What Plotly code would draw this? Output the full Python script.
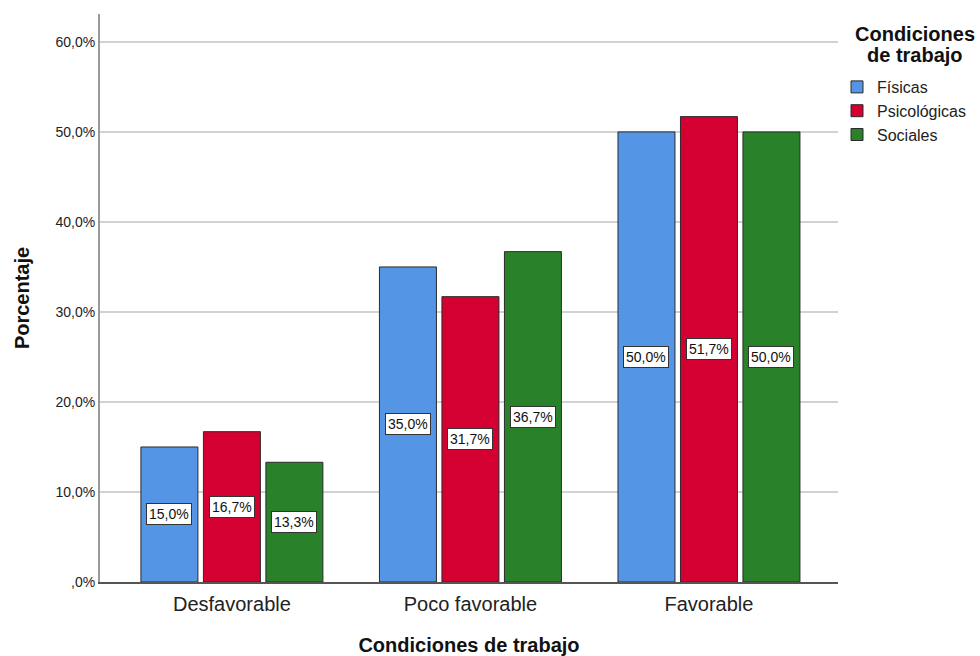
import plotly.graph_objects as go

# Data: percentage of workers by assessment of each working-condition dimension
categories = ["Desfavorable", "Poco favorable", "Favorable"]
series_names = ["Físicas", "Psicológicas", "Sociales"]
fisicas = [15.0, 35.0, 50.0]
psicologicas = [16.7, 31.7, 51.7]
sociales = [13.3, 36.7, 50.0]
series_values = [fisicas, psicologicas, sociales]
colors = ["#5595E5", "#D50032", "#29822A"]

legend_title_lines = ["Condiciones", "de trabajo"]

y_tick_vals = [0, 10, 20, 30, 40, 50, 60]
y_tick_text = [",0%", "10,0%", "20,0%", "30,0%", "40,0%", "50,0%", "60,0%"]

W, H = 980, 656


def pct(v):
    return f"{v:.1f}".replace(".", ",") + "%"


fig = go.Figure()
for name, vals, col in zip(series_names, series_values, colors):
    fig.add_trace(go.Bar(
        name=name,
        x=categories,
        y=vals,
        marker=dict(color=col, line=dict(color="#2b2b2b", width=1)),
        hoverinfo="skip",
    ))

# value boxes at the middle of each bar
slot_px = 62.5
for j, vals in enumerate(series_values):
    for cat, v in zip(categories, vals):
        fig.add_annotation(
            x=cat, y=v / 2, text=pct(v), showarrow=False,
            xshift=(j - 1) * slot_px,
            font=dict(family="Arial", size=14, color="#111111"),
            bgcolor="white", bordercolor="#333333", borderwidth=1, borderpad=2,
        )

# legend heading, one line per annotation for tighter line spacing
for k, line in enumerate(legend_title_lines):
    fig.add_annotation(
        xref="paper", yref="paper",
        x=1.104, y=(582 - 34 - 21 * k) / 568,
        text=f"<b>{line}</b>", showarrow=False,
        xanchor="center", yanchor="middle",
        font=dict(family="Arial", size=20, color="#111111"),
    )

fig.update_layout(
    width=W, height=H,
    margin=dict(l=100, r=142, t=14, b=74, autoexpand=False),
    paper_bgcolor="white", plot_bgcolor="white",
    barmode="group", bargap=0.214, bargroupgap=0.088,
    font=dict(family="Arial", color="#222222"),
    legend=dict(
        font=dict(size=16, color="#222222"),
        xref="container", yref="container",
        x=837 / W, xanchor="left", y=1 - 70 / H, yanchor="top",
        tracegroupgap=0, itemwidth=30,
        bgcolor="rgba(0,0,0,0)",
    ),
    xaxis=dict(
        type="category",
        range=[-0.553, 2.541],
        showgrid=False,
        showline=True, linecolor="#555555", linewidth=1.5,
        ticks="", tickfont=dict(size=20, color="#222222"),
        ticklabelstandoff=3,
        title=dict(text="<b>Condiciones de trabajo</b>",
                   font=dict(size=20, color="#111111"), standoff=24),
    ),
    yaxis=dict(
        range=[0, 63.1],
        tickvals=y_tick_vals, ticktext=y_tick_text,
        tickfont=dict(size=14, color="#222222"),
        showgrid=True, gridcolor="#d2d2d2", gridwidth=1.5,
        showline=True, linecolor="#9a9a9a", linewidth=2,
        zeroline=False, ticks="",
        title=dict(text="<b>Porcentaje</b>",
                   font=dict(size=20, color="#111111"), standoff=20),
    ),
)

fig.write_html("out.html")
